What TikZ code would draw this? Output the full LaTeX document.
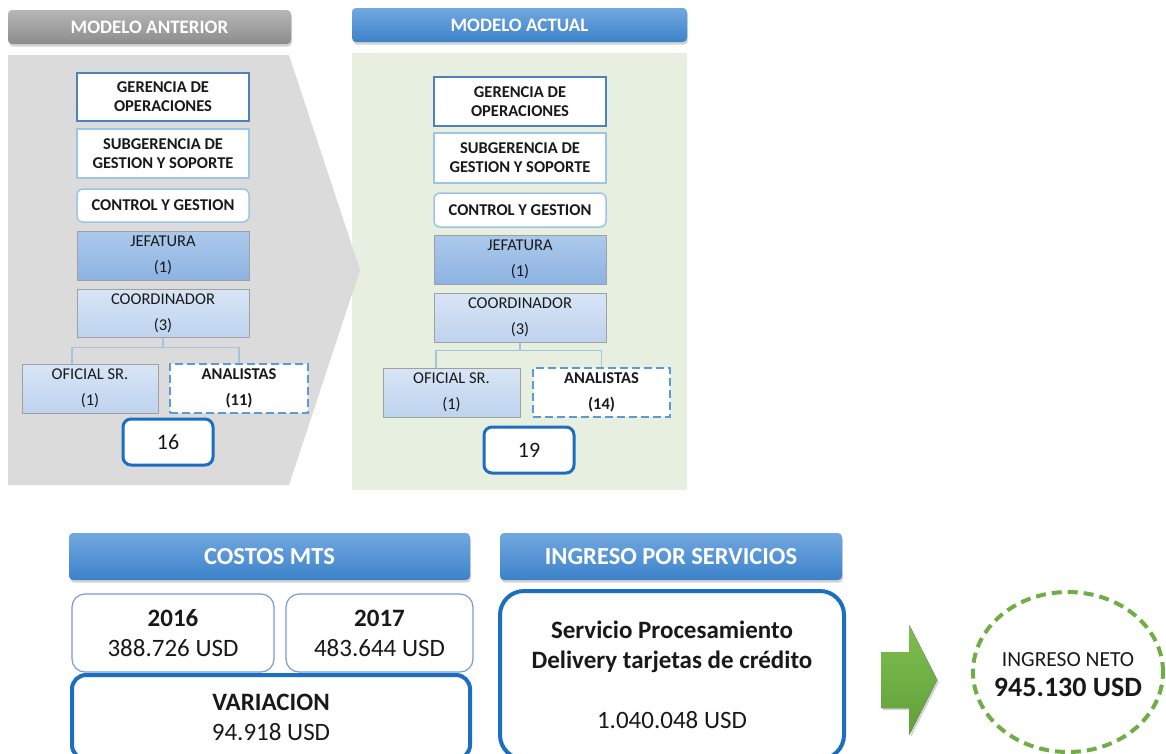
\documentclass[tikz,border=0pt]{standalone}
\usepackage{fontspec}
\setmainfont{Carlito}
\usetikzlibrary{shadows,shapes.geometric,calc}

\definecolor{panelgray}{RGB}{217,217,217}
\definecolor{panelgreen}{RGB}{231,240,224}
\definecolor{hdrgraytop}{RGB}{182,182,182}
\definecolor{hdrgraybot}{RGB}{140,140,140}
\definecolor{hdrbluetop}{RGB}{114,168,224}
\definecolor{hdrbluebot}{RGB}{60,130,202}
\definecolor{lineblue}{RGB}{79,129,189}
\definecolor{paleblue}{RGB}{157,195,230}
\definecolor{jefatop}{RGB}{172,201,235}
\definecolor{jefabot}{RGB}{141,179,226}
\definecolor{coortop}{RGB}{216,229,246}
\definecolor{coorbot}{RGB}{190,211,238}
\definecolor{boxgray}{RGB}{160,160,160}
\definecolor{dashblue}{RGB}{91,155,213}
\definecolor{strongblue}{RGB}{28,110,192}
\definecolor{yearblue}{RGB}{122,153,214}
\definecolor{okgreen}{RGB}{112,173,71}
\definecolor{arrowtop}{RGB}{126,190,80}
\definecolor{arrowbot}{RGB}{96,160,56}
\definecolor{connblue}{RGB}{166,196,224}

\newcommand{\fsz}[2]{\fontsize{#1}{#2}\selectfont}

\begin{document}
\begin{tikzpicture}[x=1pt,y=-1pt,
  every node/.style={inner sep=0pt, align=center, text=black!90},
  hdr/.style={rounded corners=4pt, text=white, font=\bfseries\fsz{19}{22},
    drop shadow={opacity=0.35, shadow xshift=1pt, shadow yshift=-2.5pt}},
  hdrgray/.style={hdr, top color=hdrgraytop, bottom color=hdrgraybot},
  hdrblue/.style={hdr, top color=hdrbluetop, bottom color=hdrbluebot},
  bighdr/.style={hdrblue, font=\bfseries\fsz{24.5}{28}},
  topbox/.style={fill=white, font=\bfseries\fsz{16.5}{19}},
  gerbox/.style={topbox, draw=lineblue, line width=1.2pt},
  subbox/.style={topbox, draw=paleblue, line width=1.5pt},
  ctlbox/.style={topbox, draw=paleblue, line width=1.5pt, rounded corners=6pt},
  rolebox/.style={draw=boxgray, line width=1pt, font=\fsz{16.5}{26}},
  jefbox/.style={rolebox, top color=jefatop, bottom color=jefabot},
  coorbox/.style={rolebox, top color=coortop, bottom color=coorbot},
  anabox/.style={fill=white, draw=dashblue, line width=2.6pt,
    dash pattern=on 8pt off 4pt, font=\bfseries\fsz{16.5}{26}},
  totbox/.style={fill=white, draw=strongblue, line width=3pt,
    rounded corners=8pt, font=\fsz{22}{24}},
  conn/.style={draw=connblue, line width=1.5pt},
  yearbox/.style={fill=white, draw=yearblue, line width=1.2pt,
    rounded corners=13pt, font=\fsz{25}{30}},
  bigbox/.style={fill=white, draw=strongblue, line width=4pt,
    rounded corners=24pt, font=\fsz{25}{30}}
]
\useasboundingbox (0,0) rectangle (1166,753);
\clip (0,0) rectangle (1166,753);

% ---------------- panels ----------------
\fill[panelgreen] (352,53) rectangle (687,490);
\fill[panelgray, opacity=0.95] (8,55) -- (289,55) -- (360,270) -- (289,485) -- (8,485) -- cycle;

% ---------------- headers ----------------
\node[hdrgray, minimum width=283pt, minimum height=34pt] (hdrL) at (149.5,27) {MODELO ANTERIOR};
\node[hdrblue, minimum width=335pt, minimum height=34pt] (hdrR) at (519.5,25) {MODELO ACTUAL};

% ---------------- previous model ----------------
\node[gerbox, minimum width=172pt, minimum height=48pt] (gerL) at (163,97) {GERENCIA DE\\OPERACIONES};
\node[subbox, minimum width=172pt, minimum height=49pt] (subL) at (163,153.5) {SUBGERENCIA DE\\GESTION Y SOPORTE};
\node[ctlbox, minimum width=172pt, minimum height=33pt] (ctlL) at (163,205.5) {CONTROL Y GESTION};
\node[jefbox, minimum width=172pt, minimum height=49pt] (jefL) at (163,255.5) {JEFATURA\\(1)};
\node[coorbox, minimum width=172pt, minimum height=48pt] (corL) at (163,313) {COORDINADOR\\(3)};
\node[coorbox, minimum width=136pt, minimum height=49pt] (ofiL) at (90,388.5) {OFICIAL SR.\\(1)};
\node[anabox, minimum width=138pt, minimum height=49pt] (anaL) at (239,388.5) {ANALISTAS\\(11)};
\node[totbox, minimum width=90pt, minimum height=46pt] (totL) at (168,442) {16};
\draw[conn] (corL.south) -- ++(0,10) coordinate (barL) -| (anaL.north);
\draw[conn] (barL) -| ([xshift=-18pt]ofiL.north);

% ---------------- current model ----------------
\node[gerbox, minimum width=172pt, minimum height=49pt] (gerR) at (520,101.5) {GERENCIA DE\\OPERACIONES};
\node[subbox, minimum width=172pt, minimum height=50pt] (subR) at (520,158) {SUBGERENCIA DE\\GESTION Y SOPORTE};
\node[ctlbox, minimum width=172pt, minimum height=34pt] (ctlR) at (520,210) {CONTROL Y GESTION};
\node[jefbox, minimum width=172pt, minimum height=49pt] (jefR) at (520,259.5) {JEFATURA\\(1)};
\node[coorbox, minimum width=172pt, minimum height=49pt] (corR) at (520,317.5) {COORDINADOR\\(3)};
\node[coorbox, minimum width=137pt, minimum height=49pt] (ofiR) at (451.5,392.5) {OFICIAL SR.\\(1)};
\node[anabox, minimum width=137pt, minimum height=49pt] (anaR) at (601.5,392.5) {ANALISTAS\\(14)};
\node[totbox, minimum width=90pt, minimum height=46pt] (totR) at (529,450) {19};
\draw[conn] (corR.south) -- ++(0,8) coordinate (barR) -| (anaR.north);
\draw[conn] (barR) -| ([xshift=-15.5pt]ofiR.north);

% ---------------- costs ----------------
\node[bighdr, minimum width=401pt, minimum height=47pt] (cost) at (269.5,556.5) {COSTOS MTS};
\node[yearbox, minimum width=202pt, minimum height=78pt] (y16) at (173,633) {\textbf{2016}\\388.726 USD};
\node[yearbox, minimum width=187pt, minimum height=78pt] (y17) at (379.5,633) {\textbf{2017}\\483.644 USD};
\node[bigbox, rounded corners=14pt, minimum width=398pt, minimum height=84pt] (var) at (271,717) {\textbf{VARIACION}\\94.918 USD};

% ---------------- income ----------------
\node[bighdr, minimum width=342pt, minimum height=47pt] (ing) at (671,556.5) {INGRESO POR SERVICIOS};
\node[bigbox, minimum width=344pt, minimum height=168pt] (serv) at (672,675)
  {\textbf{Servicio Procesamiento}\\\textbf{Delivery tarjetas de crédito}\\[30pt]1.040.048 USD};

% ---------------- result ----------------
\fill[top color=arrowtop, bottom color=arrowbot,
  drop shadow={opacity=0.35, shadow xshift=2pt, shadow yshift=-2pt}]
  (881,652) -- (909,652) -- (909,625) -- (937,680) -- (909,735) -- (909,708) -- (881,708) -- cycle;
\node[ellipse, draw=okgreen, line width=4pt, dash pattern=on 10pt off 6pt,
  minimum width=190pt, minimum height=160pt] (neto) at (1068,672) {};
\node[font=\fsz{21.5}{30}] (netotxt) at ([yshift=-3pt]neto.center)
  {INGRESO NETO\\{\fsz{28}{30}\bfseries 945.130 USD}};
\end{tikzpicture}
\end{document}
